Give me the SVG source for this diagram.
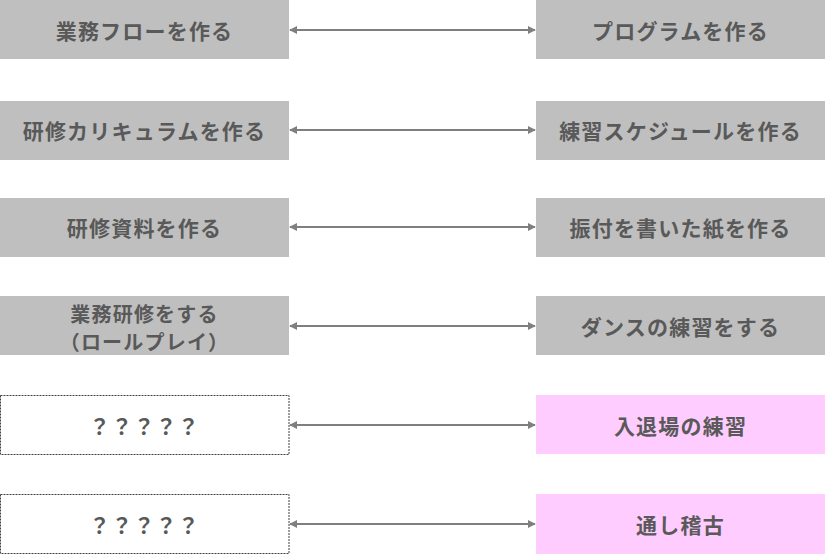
<svg xmlns="http://www.w3.org/2000/svg" width="825" height="554" viewBox="0 0 825 554">
<style>
.g{fill:#bfbfbf}
.p{fill:#ffccff}
.d{fill:#ffffff;stroke:#404040;stroke-width:1;stroke-dasharray:2 1}
.t{font-family:"Noto Sans CJK JP","Noto Sans",sans-serif;font-weight:bold;font-size:21px;fill:#595959;text-anchor:middle;dominant-baseline:central;letter-spacing:1.2px}
.c{stroke:#7f7f7f;stroke-width:2;fill:none;marker-start:url(#ah);marker-end:url(#ah)}
</style>
<defs>
<marker id="ah" viewBox="0 0 10 10" refX="9" refY="5" markerWidth="4" markerHeight="4" orient="auto-start-reverse" markerUnits="strokeWidth">
<path d="M0,0 L10,5 L0,10 z" fill="#7f7f7f"/>
</marker>
</defs>
<rect width="825" height="554" fill="#ffffff"/>
<g id="connectors">
<line class="c" x1="290" y1="30" x2="535" y2="30"/>
<line class="c" x1="290" y1="130" x2="535" y2="130"/>
<line class="c" x1="290" y1="227" x2="535" y2="227"/>
<line class="c" x1="290" y1="326" x2="535" y2="326"/>
<line class="c" x1="290" y1="425" x2="535" y2="425"/>
<line class="c" x1="290" y1="524" x2="535" y2="524"/>
</g>
<g id="l1"><rect class="g" x="0" y="0" width="289" height="59"/><text class="t" x="144.5" y="30">業務フローを作る</text></g>
<g id="r1"><rect class="g" x="536" y="0" width="289" height="59"/><text class="t" x="680.5" y="30">プログラムを作る</text></g>
<g id="l2"><rect class="g" x="0" y="101" width="289" height="59"/><text class="t" x="144.5" y="130">研修カリキュラムを作る</text></g>
<g id="r2"><rect class="g" x="536" y="101" width="289" height="59"/><text class="t" x="680.5" y="130">練習スケジュールを作る</text></g>
<g id="l3"><rect class="g" x="0" y="198" width="289" height="59"/><text class="t" x="144.5" y="227">研修資料を作る</text></g>
<g id="r3"><rect class="g" x="536" y="198" width="289" height="59"/><text class="t" x="680.5" y="227">振付を書いた紙を作る</text></g>
<g id="l4"><rect class="g" x="0" y="296" width="289" height="59"/><text class="t" x="144.5" y="313" style="font-size:20px">業務研修をする</text><text class="t" x="144.5" y="341" style="font-size:20px">（ロールプレイ）</text></g>
<g id="r4"><rect class="g" x="536" y="296" width="289" height="59"/><text class="t" x="680.5" y="326">ダンスの練習をする</text></g>
<g id="l5"><rect class="d" x="0.5" y="395.5" width="288.5" height="59"/><text class="t" x="144.5" y="425">？？？？？</text></g>
<g id="r5"><rect class="p" x="536" y="395" width="289" height="59"/><text class="t" x="680.5" y="425">入退場の練習</text></g>
<g id="l6"><rect class="d" x="0.5" y="494.5" width="288.5" height="59"/><text class="t" x="144.5" y="524">？？？？？</text></g>
<g id="r6"><rect class="p" x="536" y="494" width="289" height="60"/><text class="t" x="680.5" y="524">通し稽古</text></g>
</svg>
